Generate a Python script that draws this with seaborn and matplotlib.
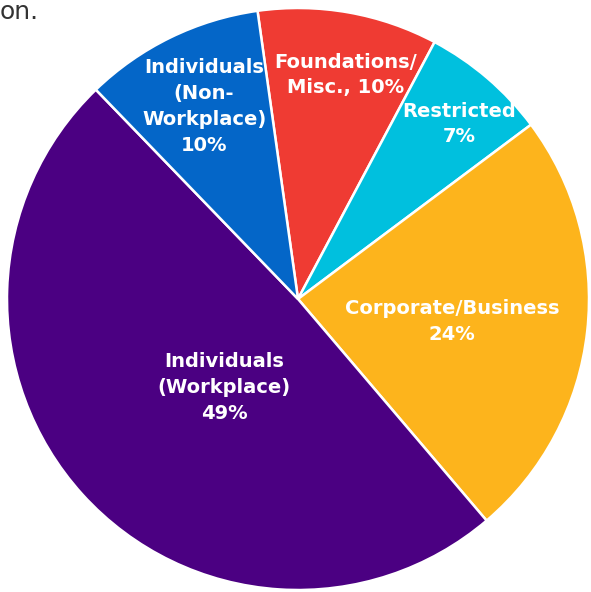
import matplotlib
matplotlib.use("Agg")
import matplotlib.pyplot as plt
import numpy as np
import seaborn as sns

# Funding sources (percent)
labels = ["Foundations/\nMisc., 10%", "Restricted\n7%", "Corporate/Business\n24%",
          "Individuals\n(Workplace)\n49%", "Individuals\n(Non-\nWorkplace)\n10%"]
shares = [10, 7, 24, 49, 10]
colors = ["#EF3B33", "#00C0DE", "#FDB41C", "#4B0082", "#0466C8"]

# label placement: fraction of radius, angle shift (deg)
label_dist = [0.787, 0.817, 0.535, 0.395, 0.736]
label_shift = [-2.0, -2.0, -2.0, 8.0, 0.0]

sns.set_theme(style="white")
plt.rcParams["font.family"] = ["DejaVu Sans"]

fig = plt.figure(figsize=(5.91, 5.92), dpi=100)
ax = fig.add_axes([0, 0, 1, 1])

wedges, _ = ax.pie(shares, colors=colors, startangle=98, counterclock=False,
                   radius=1.0, wedgeprops=dict(edgecolor="white", linewidth=1.8))

for w, lab, d, s in zip(wedges, labels, label_dist, label_shift):
    mid = np.deg2rad((w.theta1 + w.theta2) / 2 + s)
    ax.text(d * np.cos(mid), d * np.sin(mid), lab, ha="center", va="center",
            color="white", fontsize=14, fontweight="bold", linespacing=1.45)

# place the pie: centre at (298, 299) px, radius 291 px
R, cx, cy = 291.0, 298.0, 592.0 - 299.0
ax.set_xlim(-cx / R, (591 - cx) / R)
ax.set_ylim(-cy / R, (592 - cy) / R)
ax.set_aspect("auto")
ax.axis("off")

# caption fragment at the top
fig.text(0, 1 - 19 / 592, "on.", ha="left", va="baseline",
         fontsize=18, color="#333333")

fig.savefig("out.png", dpi=100)
